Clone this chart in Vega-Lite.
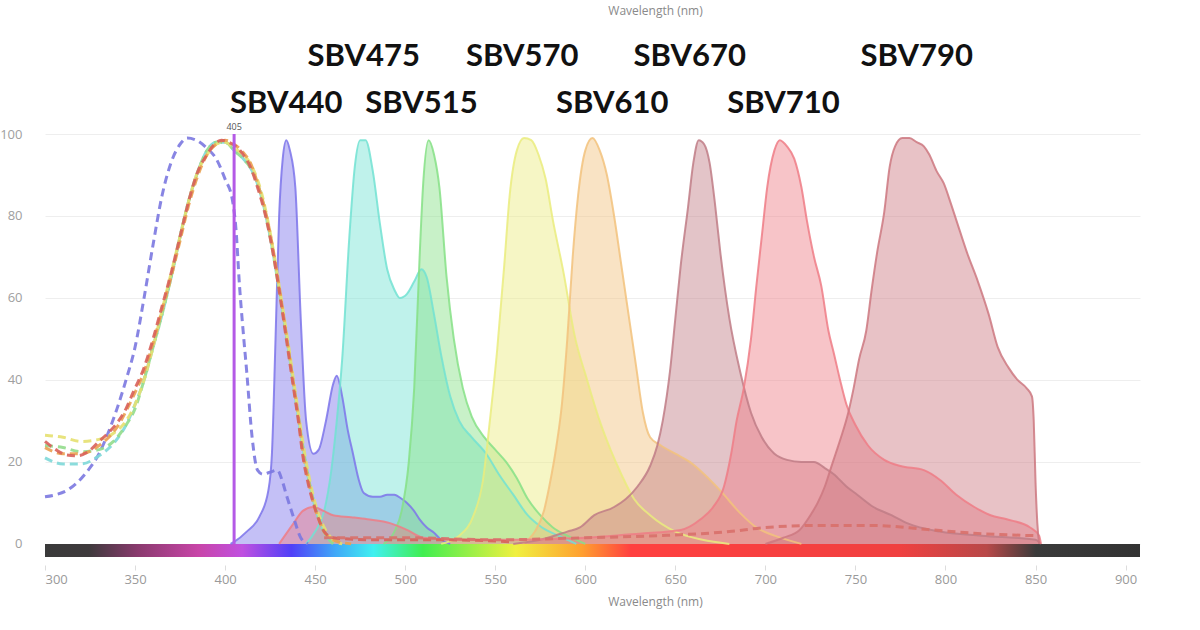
{
  "$schema": "https://vega.github.io/schema/vega-lite/v6.json",
  "width": 1095,
  "height": 423,
  "autosize": "none",
  "padding": {"left": 45, "top": 134, "right": 60, "bottom": 73},
  "background": "white",
  "config": {"view": {"stroke": null}, "font": "Open Sans"},
  "datasets": {
    "em": [
      {"s":"SBV440","w":403,"v":0},{"s":"SBV440","w":405,"v":0.5},{"s":"SBV440","w":412,"v":3},{"s":"SBV440","w":419,"v":6.6},{"s":"SBV440","w":424,"v":13},{"s":"SBV440","w":426,"v":22},{"s":"SBV440","w":428,"v":50},{"s":"SBV440","w":430,"v":80},{"s":"SBV440","w":432,"v":94},{"s":"SBV440","w":434,"v":98.5},{"s":"SBV440","w":436,"v":96},{"s":"SBV440","w":439,"v":87},{"s":"SBV440","w":442,"v":55},{"s":"SBV440","w":445,"v":30},{"s":"SBV440","w":449,"v":22},{"s":"SBV440","w":452,"v":23},{"s":"SBV440","w":456,"v":30},{"s":"SBV440","w":460,"v":39},{"s":"SBV440","w":462,"v":41},{"s":"SBV440","w":465,"v":36},{"s":"SBV440","w":468,"v":28},{"s":"SBV440","w":471,"v":22},{"s":"SBV440","w":474,"v":16},{"s":"SBV440","w":477,"v":12.4},{"s":"SBV440","w":482,"v":11.5},{"s":"SBV440","w":486,"v":11.5},{"s":"SBV440","w":490,"v":12},{"s":"SBV440","w":494,"v":12},{"s":"SBV440","w":498,"v":11},{"s":"SBV440","w":501,"v":10},{"s":"SBV440","w":505,"v":8},{"s":"SBV440","w":508,"v":6},{"s":"SBV440","w":512,"v":4},{"s":"SBV440","w":516,"v":2.7},{"s":"SBV440","w":520,"v":1},{"s":"SBV440","w":525,"v":0},

      {"s":"SBV475","w":445,"v":0},{"s":"SBV475","w":450,"v":3},{"s":"SBV475","w":455,"v":8},{"s":"SBV475","w":459,"v":18},{"s":"SBV475","w":462,"v":30},{"s":"SBV475","w":465,"v":45},{"s":"SBV475","w":469,"v":75},{"s":"SBV475","w":472,"v":92},{"s":"SBV475","w":475,"v":98.5},{"s":"SBV475","w":478,"v":98.5},{"s":"SBV475","w":482,"v":91},{"s":"SBV475","w":486,"v":78},{"s":"SBV475","w":490,"v":67},{"s":"SBV475","w":494,"v":62},{"s":"SBV475","w":497,"v":60},{"s":"SBV475","w":501,"v":61},{"s":"SBV475","w":505,"v":64},{"s":"SBV475","w":509,"v":67},{"s":"SBV475","w":512,"v":65},{"s":"SBV475","w":516,"v":56},{"s":"SBV475","w":520,"v":46},{"s":"SBV475","w":525,"v":36},{"s":"SBV475","w":530,"v":30},{"s":"SBV475","w":537,"v":26},{"s":"SBV475","w":545,"v":22},{"s":"SBV475","w":552,"v":17},{"s":"SBV475","w":560,"v":12},{"s":"SBV475","w":568,"v":7},{"s":"SBV475","w":576,"v":4},{"s":"SBV475","w":585,"v":2},{"s":"SBV475","w":595,"v":0},

      {"s":"SBV515","w":488,"v":0},{"s":"SBV515","w":494,"v":3},{"s":"SBV515","w":498,"v":8},{"s":"SBV515","w":502,"v":20},{"s":"SBV515","w":505,"v":38},{"s":"SBV515","w":508,"v":70},{"s":"SBV515","w":510,"v":88},{"s":"SBV515","w":513,"v":98.5},{"s":"SBV515","w":516,"v":95},{"s":"SBV515","w":519,"v":87},{"s":"SBV515","w":523,"v":65},{"s":"SBV515","w":527,"v":50},{"s":"SBV515","w":532,"v":38},{"s":"SBV515","w":537,"v":31},{"s":"SBV515","w":544,"v":26},{"s":"SBV515","w":550,"v":23},{"s":"SBV515","w":556,"v":20},{"s":"SBV515","w":562,"v":16},{"s":"SBV515","w":568,"v":11},{"s":"SBV515","w":575,"v":7},{"s":"SBV515","w":582,"v":4},{"s":"SBV515","w":590,"v":2},{"s":"SBV515","w":600,"v":0},

      {"s":"SBV570","w":520,"v":0},{"s":"SBV570","w":530,"v":2},{"s":"SBV570","w":538,"v":7},{"s":"SBV570","w":543,"v":15},{"s":"SBV570","w":547,"v":30},{"s":"SBV570","w":551,"v":47},{"s":"SBV570","w":555,"v":68},{"s":"SBV570","w":558,"v":85},{"s":"SBV570","w":562,"v":96},{"s":"SBV570","w":566,"v":99},{"s":"SBV570","w":570,"v":98.5},{"s":"SBV570","w":574,"v":95},{"s":"SBV570","w":578,"v":89},{"s":"SBV570","w":582,"v":79},{"s":"SBV570","w":588,"v":66},{"s":"SBV570","w":594,"v":51},{"s":"SBV570","w":601,"v":40},{"s":"SBV570","w":608,"v":30},{"s":"SBV570","w":614,"v":23},{"s":"SBV570","w":620,"v":17},{"s":"SBV570","w":627,"v":11},{"s":"SBV570","w":636,"v":7},{"s":"SBV570","w":650,"v":3},{"s":"SBV570","w":665,"v":1},{"s":"SBV570","w":680,"v":0},

      {"s":"SBV610","w":565,"v":0},{"s":"SBV610","w":572,"v":3},{"s":"SBV610","w":577,"v":8},{"s":"SBV610","w":580,"v":14},{"s":"SBV610","w":584,"v":24},{"s":"SBV610","w":587,"v":34},{"s":"SBV610","w":590,"v":50},{"s":"SBV610","w":593,"v":70},{"s":"SBV610","w":596,"v":85},{"s":"SBV610","w":600,"v":96},{"s":"SBV610","w":604,"v":99},{"s":"SBV610","w":608,"v":96},{"s":"SBV610","w":612,"v":90},{"s":"SBV610","w":616,"v":80},{"s":"SBV610","w":620,"v":68},{"s":"SBV610","w":624,"v":56},{"s":"SBV610","w":628,"v":44},{"s":"SBV610","w":632,"v":32},{"s":"SBV610","w":636,"v":26},{"s":"SBV610","w":642,"v":24},{"s":"SBV610","w":650,"v":22},{"s":"SBV610","w":658,"v":20},{"s":"SBV610","w":666,"v":17},{"s":"SBV610","w":675,"v":13},{"s":"SBV610","w":686,"v":7.5},{"s":"SBV610","w":695,"v":4},{"s":"SBV610","w":705,"v":2},{"s":"SBV610","w":720,"v":0},

      {"s":"SBV670","w":560,"v":0},{"s":"SBV670","w":575,"v":1},{"s":"SBV670","w":590,"v":3},{"s":"SBV670","w":597,"v":4},{"s":"SBV670","w":605,"v":7},{"s":"SBV670","w":616,"v":9},{"s":"SBV670","w":629,"v":14},{"s":"SBV670","w":636,"v":19},{"s":"SBV670","w":640,"v":24},{"s":"SBV670","w":643,"v":30},{"s":"SBV670","w":647,"v":42},{"s":"SBV670","w":650,"v":55},{"s":"SBV670","w":653,"v":68},{"s":"SBV670","w":657,"v":82},{"s":"SBV670","w":660,"v":93},{"s":"SBV670","w":663,"v":98.5},{"s":"SBV670","w":666,"v":97.5},{"s":"SBV670","w":669,"v":93},{"s":"SBV670","w":672,"v":83},{"s":"SBV670","w":675,"v":71},{"s":"SBV670","w":680,"v":55},{"s":"SBV670","w":686,"v":42},{"s":"SBV670","w":692,"v":32},{"s":"SBV670","w":698,"v":26},{"s":"SBV670","w":705,"v":22},{"s":"SBV670","w":712,"v":20.5},{"s":"SBV670","w":720,"v":20},{"s":"SBV670","w":727,"v":20},{"s":"SBV670","w":733,"v":18.5},{"s":"SBV670","w":738,"v":17},{"s":"SBV670","w":745,"v":14},{"s":"SBV670","w":751,"v":12},{"s":"SBV670","w":760,"v":9},{"s":"SBV670","w":770,"v":7},{"s":"SBV670","w":779,"v":5},{"s":"SBV670","w":797,"v":3},{"s":"SBV670","w":820,"v":2},{"s":"SBV670","w":850,"v":1},{"s":"SBV670","w":853,"v":0},

      {"s":"SBV710","w":430,"v":0},{"s":"SBV710","w":438,"v":5},{"s":"SBV710","w":443,"v":8},{"s":"SBV710","w":449,"v":9},{"s":"SBV710","w":455,"v":8},{"s":"SBV710","w":460,"v":7},{"s":"SBV710","w":470,"v":6.5},{"s":"SBV710","w":479,"v":6},{"s":"SBV710","w":492,"v":5},{"s":"SBV710","w":501,"v":3.4},{"s":"SBV710","w":510,"v":1.5},{"s":"SBV710","w":530,"v":1},{"s":"SBV710","w":560,"v":1},{"s":"SBV710","w":600,"v":1.5},{"s":"SBV710","w":630,"v":2.5},{"s":"SBV710","w":653,"v":3.4},{"s":"SBV710","w":664,"v":6},{"s":"SBV710","w":671,"v":9},{"s":"SBV710","w":677,"v":14},{"s":"SBV710","w":681,"v":22},{"s":"SBV710","w":684,"v":30},{"s":"SBV710","w":688,"v":38},{"s":"SBV710","w":692,"v":50},{"s":"SBV710","w":695,"v":63},{"s":"SBV710","w":698,"v":75},{"s":"SBV710","w":701,"v":87},{"s":"SBV710","w":705,"v":96},{"s":"SBV710","w":708,"v":98.5},{"s":"SBV710","w":712,"v":97},{"s":"SBV710","w":716,"v":94},{"s":"SBV710","w":720,"v":87},{"s":"SBV710","w":723,"v":79},{"s":"SBV710","w":727,"v":70},{"s":"SBV710","w":731,"v":63},{"s":"SBV710","w":735,"v":52},{"s":"SBV710","w":738,"v":46.5},{"s":"SBV710","w":742,"v":39},{"s":"SBV710","w":745,"v":34},{"s":"SBV710","w":750,"v":29},{"s":"SBV710","w":757,"v":24},{"s":"SBV710","w":766,"v":20.5},{"s":"SBV710","w":775,"v":19},{"s":"SBV710","w":788,"v":18},{"s":"SBV710","w":797,"v":15.6},{"s":"SBV710","w":806,"v":12},{"s":"SBV710","w":816,"v":9},{"s":"SBV710","w":825,"v":7},{"s":"SBV710","w":834,"v":6},{"s":"SBV710","w":847,"v":4},{"s":"SBV710","w":852,"v":2},{"s":"SBV710","w":853,"v":0},

      {"s":"SBV790","w":700,"v":0},{"s":"SBV790","w":710,"v":1.5},{"s":"SBV790","w":719,"v":3.4},{"s":"SBV790","w":725,"v":7},{"s":"SBV790","w":729,"v":10},{"s":"SBV790","w":733,"v":14},{"s":"SBV790","w":736,"v":18},{"s":"SBV790","w":739,"v":22},{"s":"SBV790","w":742,"v":26},{"s":"SBV790","w":746,"v":32},{"s":"SBV790","w":749,"v":38},{"s":"SBV790","w":752,"v":45},{"s":"SBV790","w":756,"v":52},{"s":"SBV790","w":759,"v":62},{"s":"SBV790","w":762,"v":71},{"s":"SBV790","w":766,"v":81},{"s":"SBV790","w":769,"v":92},{"s":"SBV790","w":772,"v":97},{"s":"SBV790","w":776,"v":99},{"s":"SBV790","w":780,"v":99},{"s":"SBV790","w":784,"v":98},{"s":"SBV790","w":788,"v":97},{"s":"SBV790","w":791,"v":95},{"s":"SBV790","w":795,"v":91},{"s":"SBV790","w":799,"v":88},{"s":"SBV790","w":803,"v":83},{"s":"SBV790","w":806,"v":79},{"s":"SBV790","w":812,"v":71},{"s":"SBV790","w":818,"v":64},{"s":"SBV790","w":824,"v":56},{"s":"SBV790","w":829,"v":48},{"s":"SBV790","w":835,"v":43},{"s":"SBV790","w":840,"v":40},{"s":"SBV790","w":845,"v":38},{"s":"SBV790","w":848,"v":36},{"s":"SBV790","w":849,"v":30},{"s":"SBV790","w":850,"v":15},{"s":"SBV790","w":851,"v":5},{"s":"SBV790","w":852,"v":0}
    ],
    "ex": [
      {"s":"ex-blue","w":300,"v":11.5},{"s":"ex-blue","w":306,"v":12},{"s":"ex-blue","w":312,"v":13},{"s":"ex-blue","w":318,"v":15},{"s":"ex-blue","w":324,"v":18},{"s":"ex-blue","w":330,"v":22},{"s":"ex-blue","w":335,"v":27},{"s":"ex-blue","w":340,"v":33},{"s":"ex-blue","w":345,"v":40},{"s":"ex-blue","w":350,"v":48},{"s":"ex-blue","w":355,"v":60},{"s":"ex-blue","w":360,"v":73},{"s":"ex-blue","w":365,"v":85},{"s":"ex-blue","w":370,"v":93},{"s":"ex-blue","w":375,"v":97.5},{"s":"ex-blue","w":379,"v":99},{"s":"ex-blue","w":384,"v":98.5},{"s":"ex-blue","w":390,"v":96.5},{"s":"ex-blue","w":395,"v":94},{"s":"ex-blue","w":400,"v":89},{"s":"ex-blue","w":404,"v":84},{"s":"ex-blue","w":406,"v":77},{"s":"ex-blue","w":408,"v":63},{"s":"ex-blue","w":410,"v":52},{"s":"ex-blue","w":412,"v":42},{"s":"ex-blue","w":415,"v":26},{"s":"ex-blue","w":418,"v":18},{"s":"ex-blue","w":421,"v":17},{"s":"ex-blue","w":425,"v":17.5},{"s":"ex-blue","w":429,"v":18},{"s":"ex-blue","w":432,"v":15},{"s":"ex-blue","w":434,"v":12},{"s":"ex-blue","w":438,"v":6.5},{"s":"ex-blue","w":442,"v":1.5},{"s":"ex-blue","w":446,"v":0},

      {"s":"ex-cyan","w":300,"v":21},{"s":"ex-cyan","w":310,"v":19.5},{"s":"ex-cyan","w":320,"v":19.5},{"s":"ex-cyan","w":330,"v":21.5},{"s":"ex-cyan","w":338,"v":24.5},{"s":"ex-cyan","w":345,"v":29},{"s":"ex-cyan","w":350,"v":34},{"s":"ex-cyan","w":355,"v":40},{"s":"ex-cyan","w":360,"v":48},{"s":"ex-cyan","w":365,"v":56},{"s":"ex-cyan","w":370,"v":65},{"s":"ex-cyan","w":375,"v":75},{"s":"ex-cyan","w":380,"v":84},{"s":"ex-cyan","w":385,"v":91},{"s":"ex-cyan","w":390,"v":96},{"s":"ex-cyan","w":395,"v":98},{"s":"ex-cyan","w":400,"v":98},{"s":"ex-cyan","w":405,"v":96},{"s":"ex-cyan","w":410,"v":94},{"s":"ex-cyan","w":415,"v":91},{"s":"ex-cyan","w":420,"v":85},{"s":"ex-cyan","w":425,"v":75},{"s":"ex-cyan","w":430,"v":62},{"s":"ex-cyan","w":435,"v":48},{"s":"ex-cyan","w":440,"v":33},{"s":"ex-cyan","w":445,"v":19},{"s":"ex-cyan","w":450,"v":9},{"s":"ex-cyan","w":455,"v":3},{"s":"ex-cyan","w":460,"v":0},

      {"s":"ex-green","w":300,"v":24},{"s":"ex-green","w":310,"v":23.5},{"s":"ex-green","w":320,"v":22.5},{"s":"ex-green","w":330,"v":23},{"s":"ex-green","w":338,"v":25},{"s":"ex-green","w":345,"v":29},{"s":"ex-green","w":350,"v":33},{"s":"ex-green","w":355,"v":40},{"s":"ex-green","w":360,"v":48},{"s":"ex-green","w":365,"v":56},{"s":"ex-green","w":370,"v":65},{"s":"ex-green","w":375,"v":75},{"s":"ex-green","w":380,"v":84},{"s":"ex-green","w":385,"v":91},{"s":"ex-green","w":390,"v":96},{"s":"ex-green","w":395,"v":98},{"s":"ex-green","w":400,"v":98},{"s":"ex-green","w":405,"v":96},{"s":"ex-green","w":410,"v":94},{"s":"ex-green","w":415,"v":91},{"s":"ex-green","w":420,"v":85},{"s":"ex-green","w":425,"v":75},{"s":"ex-green","w":430,"v":62},{"s":"ex-green","w":435,"v":48},{"s":"ex-green","w":440,"v":33},{"s":"ex-green","w":445,"v":19},{"s":"ex-green","w":450,"v":9},{"s":"ex-green","w":455,"v":3},{"s":"ex-green","w":460,"v":0},

      {"s":"ex-yellow","w":300,"v":26.5},{"s":"ex-yellow","w":310,"v":26},{"s":"ex-yellow","w":320,"v":25},{"s":"ex-yellow","w":330,"v":25.5},{"s":"ex-yellow","w":338,"v":27},{"s":"ex-yellow","w":345,"v":30},{"s":"ex-yellow","w":350,"v":34},{"s":"ex-yellow","w":355,"v":40},{"s":"ex-yellow","w":360,"v":48},{"s":"ex-yellow","w":365,"v":57},{"s":"ex-yellow","w":370,"v":66},{"s":"ex-yellow","w":375,"v":75},{"s":"ex-yellow","w":380,"v":84},{"s":"ex-yellow","w":385,"v":91},{"s":"ex-yellow","w":390,"v":95},{"s":"ex-yellow","w":395,"v":97.5},{"s":"ex-yellow","w":400,"v":98},{"s":"ex-yellow","w":405,"v":96.5},{"s":"ex-yellow","w":410,"v":95},{"s":"ex-yellow","w":415,"v":92},{"s":"ex-yellow","w":420,"v":86},{"s":"ex-yellow","w":425,"v":76},{"s":"ex-yellow","w":430,"v":63},{"s":"ex-yellow","w":435,"v":49},{"s":"ex-yellow","w":440,"v":34},{"s":"ex-yellow","w":445,"v":20},{"s":"ex-yellow","w":450,"v":10},{"s":"ex-yellow","w":455,"v":4},{"s":"ex-yellow","w":460,"v":1},{"s":"ex-yellow","w":465,"v":0},

      {"s":"ex-orange","w":300,"v":23.5},{"s":"ex-orange","w":310,"v":22},{"s":"ex-orange","w":320,"v":22},{"s":"ex-orange","w":330,"v":24},{"s":"ex-orange","w":340,"v":28.5},{"s":"ex-orange","w":349,"v":36},{"s":"ex-orange","w":355,"v":42},{"s":"ex-orange","w":360,"v":49},{"s":"ex-orange","w":365,"v":57},{"s":"ex-orange","w":370,"v":65},{"s":"ex-orange","w":375,"v":74},{"s":"ex-orange","w":380,"v":83},{"s":"ex-orange","w":385,"v":90},{"s":"ex-orange","w":390,"v":95},{"s":"ex-orange","w":395,"v":97.5},{"s":"ex-orange","w":400,"v":98.5},{"s":"ex-orange","w":405,"v":97.5},{"s":"ex-orange","w":410,"v":95.5},{"s":"ex-orange","w":414,"v":93},{"s":"ex-orange","w":418,"v":88},{"s":"ex-orange","w":423,"v":80},{"s":"ex-orange","w":427,"v":71},{"s":"ex-orange","w":431,"v":60},{"s":"ex-orange","w":435,"v":48},{"s":"ex-orange","w":438,"v":39},{"s":"ex-orange","w":441,"v":30},{"s":"ex-orange","w":443,"v":23},{"s":"ex-orange","w":446,"v":16},{"s":"ex-orange","w":449,"v":10},{"s":"ex-orange","w":452,"v":6},{"s":"ex-orange","w":455,"v":3},{"s":"ex-orange","w":460,"v":1},{"s":"ex-orange","w":470,"v":0},

      {"s":"ex-red","w":300,"v":25},{"s":"ex-red","w":306,"v":23},{"s":"ex-red","w":312,"v":21.7},{"s":"ex-red","w":318,"v":21.5},{"s":"ex-red","w":324,"v":22.5},{"s":"ex-red","w":330,"v":25},{"s":"ex-red","w":335,"v":27},{"s":"ex-red","w":340,"v":29.5},{"s":"ex-red","w":345,"v":33},{"s":"ex-red","w":349,"v":37},{"s":"ex-red","w":355,"v":43},{"s":"ex-red","w":360,"v":50},{"s":"ex-red","w":365,"v":58},{"s":"ex-red","w":370,"v":66},{"s":"ex-red","w":375,"v":75},{"s":"ex-red","w":380,"v":84},{"s":"ex-red","w":385,"v":91},{"s":"ex-red","w":390,"v":95},{"s":"ex-red","w":394,"v":97.5},{"s":"ex-red","w":398,"v":98.5},{"s":"ex-red","w":402,"v":98},{"s":"ex-red","w":406,"v":97},{"s":"ex-red","w":410,"v":95},{"s":"ex-red","w":414,"v":92},{"s":"ex-red","w":418,"v":87},{"s":"ex-red","w":423,"v":79},{"s":"ex-red","w":427,"v":70},{"s":"ex-red","w":431,"v":59},{"s":"ex-red","w":435,"v":47},{"s":"ex-red","w":438,"v":38},{"s":"ex-red","w":441,"v":29},{"s":"ex-red","w":443,"v":22},{"s":"ex-red","w":446,"v":15},{"s":"ex-red","w":449,"v":10},{"s":"ex-red","w":452,"v":6},{"s":"ex-red","w":455,"v":3},{"s":"ex-red","w":460,"v":1.5},{"s":"ex-red","w":480,"v":1},{"s":"ex-red","w":520,"v":1},{"s":"ex-red","w":560,"v":0.5},

      {"s":"ex-tail","w":455,"v":1.5},{"s":"ex-tail","w":500,"v":1.5},{"s":"ex-tail","w":550,"v":1},{"s":"ex-tail","w":600,"v":1.5},{"s":"ex-tail","w":640,"v":2},{"s":"ex-tail","w":680,"v":3},{"s":"ex-tail","w":700,"v":4},{"s":"ex-tail","w":730,"v":4.5},{"s":"ex-tail","w":760,"v":4.5},{"s":"ex-tail","w":790,"v":3.5},{"s":"ex-tail","w":820,"v":2.5},{"s":"ex-tail","w":850,"v":2}
    ],
    "labels": [
      {"t":"SBV440","w":434,"y":107.3},{"t":"SBV475","w":477,"y":118.8},{"t":"SBV515","w":509,"y":107.3},{"t":"SBV570","w":565,"y":118.8},{"t":"SBV610","w":615,"y":107.3},{"t":"SBV670","w":658,"y":118.8},{"t":"SBV710","w":710,"y":107.3},{"t":"SBV790","w":784,"y":118.8}
    ],
    "laser": [{"w":405,"y0":0,"y1":100,"t":"405","ty":101.8}],
    "bar": [{"a":300,"b":908,"lo":-3.2,"hi":0}],
    "top": [{"t":"Wavelength (nm)","w":639,"y":130}]
  },
  "layer": [
    {
      "data": {"name": "bar"},
      "mark": {"type": "rect", "color": {"gradient": "linear", "x1": 0, "y1": 0, "x2": 1, "y2": 0, "stops": [
        {"offset": 0, "color": "#3a3a3a"},
        {"offset": 0.04, "color": "#3e3a3c"},
        {"offset": 0.085, "color": "#8a3a6e"},
        {"offset": 0.14, "color": "#c845a8"},
        {"offset": 0.18, "color": "#c050e0"},
        {"offset": 0.225, "color": "#5040f8"},
        {"offset": 0.265, "color": "#40a8f8"},
        {"offset": 0.3, "color": "#40f0f0"},
        {"offset": 0.345, "color": "#40ee50"},
        {"offset": 0.43, "color": "#f0f040"},
        {"offset": 0.49, "color": "#ffa030"},
        {"offset": 0.535, "color": "#ff4040"},
        {"offset": 0.78, "color": "#f04040"},
        {"offset": 0.86, "color": "#b84848"},
        {"offset": 0.905, "color": "#3a3a3a"},
        {"offset": 1, "color": "#333333"}
      ]}},
      "encoding": {
        "x": {"field": "a", "type": "quantitative"},
        "x2": {"field": "b"},
        "y": {"field": "lo", "type": "quantitative"},
        "y2": {"field": "hi"}
      }
    },
    {
      "data": {"name": "em"},
      "mark": {"type": "area", "interpolate": "monotone", "fillOpacity": 0.45, "line": {"strokeWidth": 2, "strokeOpacity": 0.85}},
      "encoding": {
        "x": {"field": "w", "type": "quantitative", "scale": {"domain": [300, 908], "nice": false, "zero": false},
          "axis": {"values": [300,350,400,450,500,550,600,650,700,750,800,850,900], "title": "Wavelength (nm)", "domain": false, "grid": false, "offset": 8, "tickSize": 5, "tickColor": "#dddddd", "labelFontSize": 13, "labelColor": "#9a9a9a", "labelPadding": 3, "titleFontSize": 12, "titleFontWeight": "normal", "titleColor": "#8a8a8a", "titleX": 610, "titlePadding": 10}},
        "y": {"field": "v", "type": "quantitative", "stack": null, "scale": {"domain": [-3.2, 100], "nice": false, "zero": false},
          "axis": {"values": [0,20,40,60,80,100], "title": null, "domain": false, "ticks": false, "grid": true, "gridColor": "#eeeeee", "labelFontSize": 13, "labelColor": "#a0a0a0", "labelPadding": 23}},
        "color": {"field": "s", "type": "nominal", "legend": null,
          "scale": {"domain": ["SBV440","SBV475","SBV515","SBV570","SBV610","SBV670","SBV710","SBV790","ex-blue","ex-cyan","ex-green","ex-yellow","ex-orange","ex-red","ex-tail"],
                    "range": ["#7c74ea","#72e2d2","#86e086","#eaec7e","#f2c27c","#c07c86","#ee7c86","#cc7880","#7b78e0","#7ed8d8","#92dc8c","#e6e070","#eaa050","#d8605a","#d8706a"]}}
      }
    },
    {
      "data": {"name": "ex"},
      "mark": {"type": "line", "interpolate": "monotone", "strokeWidth": 3, "strokeDash": [8, 5], "opacity": 0.9},
      "encoding": {
        "x": {"field": "w", "type": "quantitative"},
        "y": {"field": "v", "type": "quantitative"},
        "color": {"field": "s", "type": "nominal", "legend": null}
      }
    },
    {
      "data": {"name": "laser"},
      "mark": {"type": "rule", "color": "#b45ae6", "strokeWidth": 3},
      "encoding": {
        "x": {"field": "w", "type": "quantitative"},
        "y": {"field": "y0", "type": "quantitative"},
        "y2": {"field": "y1"}
      }
    },
    {
      "data": {"name": "laser"},
      "mark": {"type": "text", "fontSize": 9, "color": "#555555", "baseline": "middle"},
      "encoding": {
        "x": {"field": "w", "type": "quantitative"},
        "y": {"field": "ty", "type": "quantitative"},
        "text": {"field": "t"}
      }
    },
    {
      "data": {"name": "labels"},
      "mark": {"type": "text", "font": "Lato", "fontWeight": "bold", "fontSize": 31, "color": "#111111", "baseline": "middle"},
      "encoding": {
        "x": {"field": "w", "type": "quantitative"},
        "y": {"field": "y", "type": "quantitative"},
        "text": {"field": "t"}
      }
    },
    {
      "data": {"name": "top"},
      "mark": {"type": "text", "fontSize": 12, "color": "#8a8a8a", "baseline": "middle"},
      "encoding": {
        "x": {"field": "w", "type": "quantitative"},
        "y": {"field": "y", "type": "quantitative"},
        "text": {"field": "t"}
      }
    }
  ]
}
